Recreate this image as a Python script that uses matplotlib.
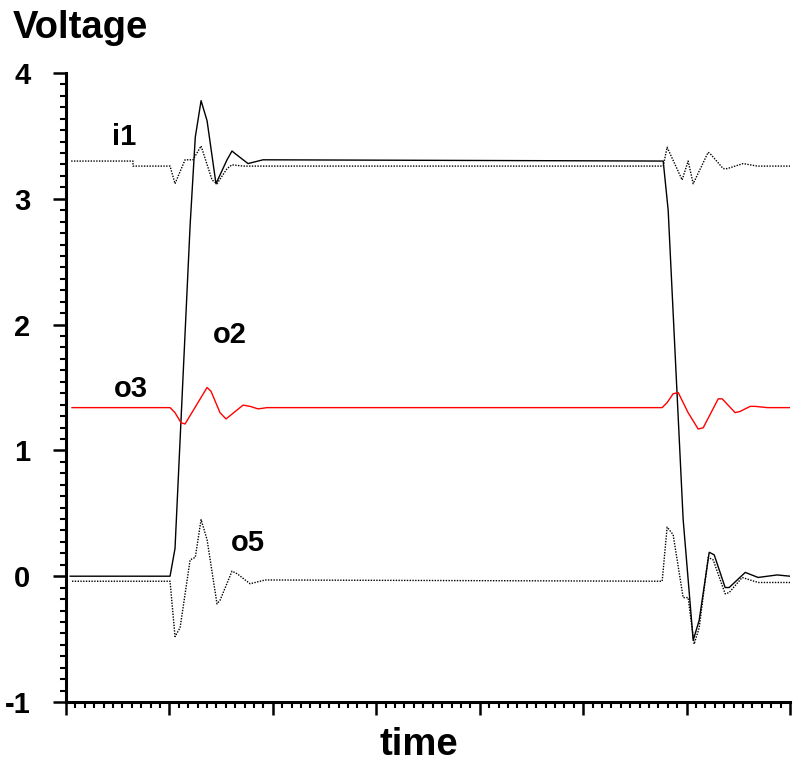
import matplotlib
matplotlib.use('Agg')
import matplotlib.pyplot as plt
from matplotlib.ticker import MultipleLocator, NullFormatter

plt.rcParams['font.family'] = ['Liberation Sans', 'DejaVu Sans']
plt.rcParams['font.weight'] = 'bold'

# i1: input, dotted
i1_t = [0.05, 0.648, 0.648, 1.006, 1.054, 1.151, 1.228, 1.306, 1.412, 1.46, 1.557,
        1.605, 1.712, 5.774, 5.812, 5.957, 6.015, 6.064, 6.209, 6.238, 6.354, 6.393,
        6.547, 6.683, 7.0]
i1_v = [3.30, 3.30, 3.26, 3.26, 3.12, 3.31, 3.31, 3.42, 3.15, 3.12, 3.24,
        3.27, 3.26, 3.26, 3.41, 3.15, 3.30, 3.12, 3.37, 3.35, 3.24, 3.24,
        3.28, 3.26, 3.26]

# o2: solid black
o2_t = [0.04, 1.006, 1.054, 1.2, 1.25, 1.306, 1.364, 1.45, 1.557, 1.605, 1.634,
        1.76, 1.905, 5.774, 5.822, 5.967, 6.064, 6.122, 6.219, 6.267, 6.373,
        6.412, 6.567, 6.692, 6.876, 7.0]
o2_v = [0.0, 0.0, 0.22, 2.79, 3.49, 3.78, 3.62, 3.12, 3.31, 3.38, 3.36,
        3.28, 3.31, 3.30, 2.91, 0.45, -0.51, -0.35, 0.19, 0.17, -0.09,
        -0.09, 0.03, -0.01, 0.01, 0.0]

# o3: red
o3_t = [0.058, 1.006, 1.054, 1.112, 1.151, 1.364, 1.402, 1.489, 1.547, 1.712, 1.78,
        1.857, 1.944, 5.764, 5.812, 5.87, 5.919, 6.015, 6.112, 6.161, 6.306,
        6.344, 6.47, 6.518, 6.615, 6.663, 6.78, 7.0]
o3_v = [1.34, 1.34, 1.30, 1.22, 1.21, 1.50, 1.47, 1.30, 1.25, 1.36, 1.35,
        1.33, 1.34, 1.34, 1.38, 1.45, 1.46, 1.30, 1.17, 1.18, 1.41,
        1.41, 1.30, 1.31, 1.35, 1.35, 1.34, 1.34]

# o5: dotted black
o5_t = [0.058, 1.006, 1.054, 1.103, 1.2, 1.25, 1.306, 1.364, 1.46, 1.49, 1.605,
        1.654, 1.78, 1.925, 5.764, 5.812, 5.87, 5.967, 6.015, 6.073, 6.122,
        6.209, 6.257, 6.373, 6.412, 6.538, 6.692, 7.0]
o5_v = [-0.04, -0.04, -0.48, -0.41, 0.13, 0.15, 0.45, 0.29, -0.22, -0.19, 0.04,
        0.02, -0.06, -0.03, -0.04, 0.39, 0.33, -0.17, -0.17, -0.54, -0.41,
        0.15, 0.13, -0.14, -0.13, -0.01, -0.05, -0.05]

labels = ["i1", "o2", "o3", "o5"]
label_pos = [(0.561, 3.49), (1.586, 1.92), (0.629, 1.49), (1.76, 0.26)]

fig = plt.figure(figsize=(7.95, 7.64), dpi=100)
ax = fig.add_axes([66 / 795, 1 - 702 / 764, (790 - 66) / 795, (702 - 73) / 764])

dotted = (0, (1, 1))
ax.plot(i1_t, i1_v, color="black", lw=1, linestyle=dotted)
ax.plot(o2_t, o2_v, color="black", lw=1)
ax.plot(o3_t, o3_v, color="red", lw=1)
ax.plot(o5_t, o5_v, color="black", lw=1, linestyle=dotted)

for name, (tx, ty) in zip(labels, label_pos):
    ax.text(tx, ty, name, fontsize=21, fontweight="bold", ha="center", va="center")

ax.set_xlim(0, 7)
ax.set_ylim(-1, 4)
ax.xaxis.set_major_locator(MultipleLocator(1))
ax.xaxis.set_minor_locator(MultipleLocator(1 / 11))
ax.yaxis.set_major_locator(MultipleLocator(1))
ax.yaxis.set_minor_locator(MultipleLocator(1 / 11))
ax.xaxis.set_major_formatter(NullFormatter())
ax.set_yticks(range(-1, 5), [str(v) for v in range(-1, 5)])

for side in ("top", "right"):
    ax.spines[side].set_visible(False)
for side in ("left", "bottom"):
    ax.spines[side].set_linewidth(2.2)

ax.tick_params(which="major", direction="out", length=9.5, width=1.8,
               labelsize=21, pad=16)
ax.tick_params(which="minor", direction="out", length=4.5, width=1.5)
for lab in ax.get_yticklabels():
    lab.set_fontweight("bold")

fig.text(13 / 795, 1 - 38 / 764, "Voltage", fontsize=27.5, fontweight="bold",
         ha="left", va="baseline")
fig.text(419 / 795, 1 - 755 / 764, "time", fontsize=27.5, fontweight="bold",
         ha="center", va="baseline")

fig.savefig("out.png", dpi=100)
plt.close(fig)
